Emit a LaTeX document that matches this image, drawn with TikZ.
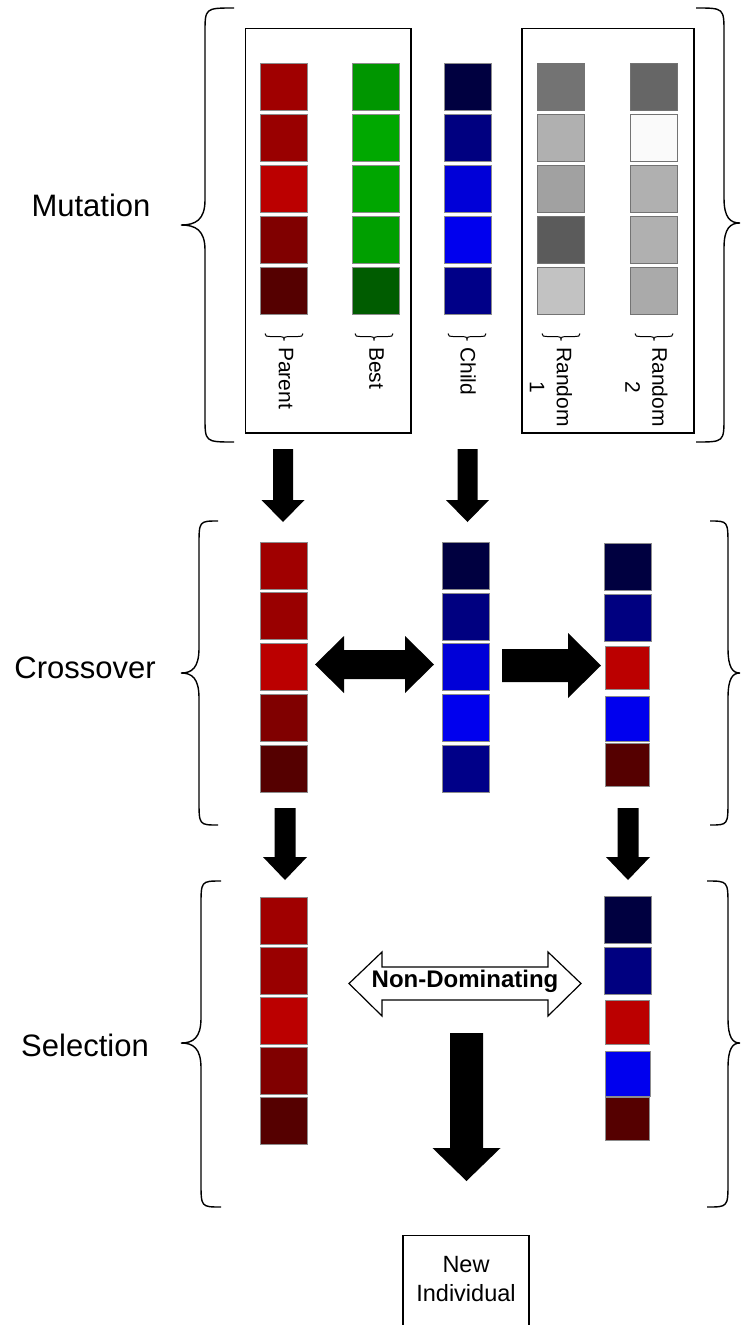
\documentclass[tikz,border=0pt]{standalone}
\usepackage{fontspec}
\setmainfont{Liberation Sans}

% gene colours
\definecolor{par1}{HTML}{A00000}
\definecolor{par2}{HTML}{990000}
\definecolor{par3}{HTML}{BB0000}
\definecolor{par4}{HTML}{800000}
\definecolor{par5}{HTML}{550000}
\definecolor{bst1}{HTML}{009600}
\definecolor{bst2}{HTML}{00A800}
\definecolor{bst3}{HTML}{00A600}
\definecolor{bst4}{HTML}{009F00}
\definecolor{bst5}{HTML}{005C00}
\definecolor{chd1}{HTML}{000040}
\definecolor{chd2}{HTML}{000080}
\definecolor{chd3}{HTML}{0000D8}
\definecolor{chd4}{HTML}{0000EE}
\definecolor{chd5}{HTML}{000088}
\definecolor{rnda1}{HTML}{737373}
\definecolor{rnda2}{HTML}{B0B0B0}
\definecolor{rnda3}{HTML}{A1A1A1}
\definecolor{rnda4}{HTML}{5B5B5B}
\definecolor{rnda5}{HTML}{C2C2C2}
\definecolor{rndb1}{HTML}{666666}
\definecolor{rndb2}{HTML}{FAFAFA}
\definecolor{rndb3}{HTML}{B0B0B0}
\definecolor{rndb4}{HTML}{B0B0B0}
\definecolor{rndb5}{HTML}{AAAAAA}

% big curly bracket: tip x, straight x, end x, top, middle, bottom
\newcommand{\curlybrace}[6]{%
  \draw[bracestyle] (#3,#4) .. controls (#2,#4) and (#2,#4) .. (#2,#4+25)
    -- (#2,#5-25) .. controls (#2,#5-5) and ({#1+0.6*(#2-#1)},#5) .. (#1,#5)
    .. controls ({#1+0.6*(#2-#1)},#5) and (#2,#5+5) .. (#2,#5+25)
    -- (#2,#6-25) .. controls (#2,#6) and (#2,#6) .. (#3,#6);}

% small bracket above a column caption: centre x
\newcommand{\capbrace}[1]{%
  \draw[smallbrace] (#1-19,333.5) .. controls (#1-19,336.5) and (#1-17,336.5) .. (#1-14,336.5)
    -- (#1-4,336.5) .. controls (#1-1,336.5) and (#1,337) .. (#1,340.5)
    .. controls (#1,337) and (#1+1,336.5) .. (#1+4,336.5)
    -- (#1+14,336.5) .. controls (#1+17,336.5) and (#1+19,336.5) .. (#1+19,333.5);}

% solid downward block arrow: x, top, head start, tip, shaft half width, head half width
\newcommand{\downblock}[6]{%
  \fill[blockarrow] (#1-#5,#2) -- (#1+#5,#2) -- (#1+#5,#3) -- (#1+#6,#3) -- (#1,#4)
    -- (#1-#6,#3) -- (#1-#5,#3) -- cycle;}

\begin{document}
\begin{tikzpicture}[x=1pt,y=-1pt,
  sq/.style={draw=black!45, line width=0.9pt, minimum width=47pt, minimum height=47pt, inner sep=0pt},
  sectlabel/.style={font=\fontsize{31}{37}\selectfont, inner sep=0pt},
  collabel/.style={font=\fontsize{21}{27}\selectfont, rotate=-90, anchor=west, inner sep=0pt, align=center},
  groupbox/.style={draw, line width=1.3pt},
  bracestyle/.style={draw, line width=1.4pt},
  smallbrace/.style={draw, line width=1pt},
  blockarrow/.style={fill=black},
  hollowarrow/.style={draw, fill=white, line width=1.2pt, line join=miter},
]
\useasboundingbox (0,0) rectangle (740,1325);

% ---------------- Mutation ----------------
\node[sectlabel] (mutation) at (91,205) {Mutation};
\curlybrace{181}{205}{234}{8}{225}{442}
\curlybrace{740}{724}{696}{8}{223}{442}

\draw[groupbox] (245.6,28.5) rectangle (411,433);
\draw[groupbox] (522,28.5) rectangle (694,433);

\foreach \i in {1,...,5} {
  \node[sq, fill=par\i]  (mp\i) at (283.5,{35.5+51*\i}) {};
  \node[sq, fill=bst\i]  (mb\i) at (376,{35.5+51*\i}) {};
  \node[sq, fill=chd\i]  (mc\i) at (468,{35.5+51*\i}) {};
  \node[sq, fill=rnda\i, draw=black!55] (ma\i) at (561,{35.5+51*\i}) {};
  \node[sq, fill=rndb\i, draw=black!55] (mr\i) at (653.5,{35.5+51*\i}) {};
}

\capbrace{284}
\capbrace{374}
\capbrace{467}
\capbrace{561}
\capbrace{654}
\node[collabel] (lparent) at (286,347) {Parent};
\node[collabel] (lbest)   at (376.5,347) {Best};
\node[collabel] (lchild)  at (468,347) {Child};
\node[collabel] (lrnda)   at (551,347) {Random\\1};
\node[collabel] (lrndb)   at (646.5,347) {Random\\2};

% mutation -> crossover
\downblock{283}{449}{500}{522}{10}{21.5}
\downblock{467.5}{449}{500}{522}{10}{21.5}

% ---------------- Crossover ----------------
\node[sectlabel] (crossover) at (85,668) {Crossover};
\curlybrace{181}{199}{218}{521}{673}{825}
\curlybrace{740}{728}{710}{521}{673}{825}

\foreach \i in {1,...,5} {
  \node[sq, fill=par\i] (cp\i) at (283.8,{514.75+50.75*\i}) {};
  \node[sq, fill=chd\i] (cc\i) at (465.5,{515.5+50.6*\i}) {};
}
\node[sq, fill=chd1] (co1) at (628,566.5) {};
\node[sq, fill=chd2] (co2) at (628,617.5) {};
\node[sq, fill=par3, minimum width=44pt, minimum height=43pt] (co3) at (627.3,667.5) {};
\node[sq, fill=chd4, minimum width=44pt, minimum height=45pt] (co4) at (627.3,718.5) {};
\node[sq, fill=par5, minimum width=44pt, minimum height=43pt] (co5) at (627.3,764.5) {};

% exchange between parent and child, then the offspring
\fill[blockarrow] (315,664.5) -- (344,636) -- (344,650) -- (405,650) -- (405,636)
  -- (434,664.5) -- (405,693) -- (405,679) -- (344,679) -- (344,693) -- cycle;
\fill[blockarrow] (502,649) -- (568,649) -- (568,633) -- (601,665.5) -- (568,698)
  -- (568,682) -- (502,682) -- cycle;

% crossover -> selection
\downblock{285}{808}{857}{880}{10.5}{22}
\downblock{628}{808}{857}{880}{10.5}{22}

% ---------------- Selection ----------------
\node[sectlabel] (selection) at (85,1045) {Selection};
\curlybrace{181}{201}{221}{881}{1043}{1207}
\curlybrace{740}{728}{707}{881}{1043}{1207}

\foreach \i in {1,...,5} {
  \node[sq, fill=par\i] (sp\i) at (283.5,{870.5+50*\i}) {};
}
\node[sq, fill=chd1] (so1) at (628,920) {};
\node[sq, fill=chd2] (so2) at (628,971) {};
\node[sq, fill=par3, minimum width=44pt, minimum height=44pt] (so3) at (627.3,1022) {};
\node[sq, fill=chd4, minimum width=45pt, minimum height=45pt] (so4) at (627.8,1073.5) {};
\node[sq, fill=par5, minimum width=44pt, minimum height=43pt] (so5) at (627.3,1118.5) {};

\draw[hollowarrow] (349,983.5) -- (382,952) -- (382,967) -- (548,967) -- (548,952)
  -- (581,983.5) -- (548,1016) -- (548,1000) -- (382,1000) -- (382,1016) -- cycle;
\node[font=\bfseries\fontsize{24}{28}\selectfont, inner sep=0pt] (nondom) at (465,981) {Non-Dominating};

\downblock{466.5}{1033}{1148}{1181}{16.5}{34}

% ---------------- Result ----------------
\node[draw, line width=1.3pt, minimum width=126pt, minimum height=120pt, anchor=north, inner sep=0pt] (indbox) at (466,1234.5) {};
\node[font=\fontsize{23.5}{29}\selectfont, align=center, inner sep=0pt] (newind) at (466,1279) {New\\Individual};
\end{tikzpicture}
\end{document}
